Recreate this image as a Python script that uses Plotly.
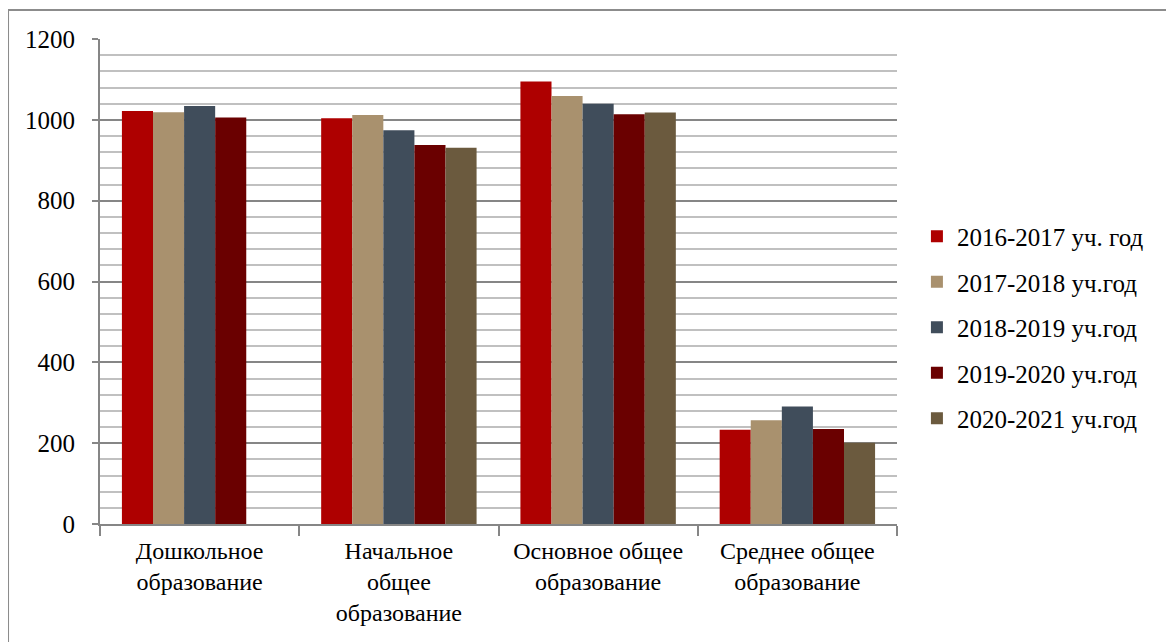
import plotly.graph_objects as go

categories = ["Дошкольное<br>образование", "Начальное<br>общее<br>образование",
              "Основное общее<br>образование", "Среднее общее<br>образование"]
series_names = ["2016-2017 уч. год", "2017-2018 уч.год", "2018-2019 уч.год",
                "2019-2020 уч.год", "2020-2021 уч.год"]
v2016 = [1022, 1004, 1095, 233]
v2017 = [1019, 1012, 1059, 257]
v2018 = [1034, 974, 1040, 291]
v2019 = [1006, 938, 1014, 235]
v2020 = [None, 931, 1018, 201]
colors = ["#AE0000", "#A9916E", "#404D5B", "#6A0000", "#6B5A3E"]

series = [v2016, v2017, v2018, v2019, v2020]
FONT = "'Times New Roman', 'Liberation Serif', 'DejaVu Serif', serif"

fig = go.Figure()
for i, (name, vals) in enumerate(zip(series_names, series)):
    fig.add_trace(go.Bar(x=categories, y=vals, name=name, marker_color=colors[i],
                         marker_line_width=0, legendgroup=f"g{i}"))

fig.update_layout(
    width=1174, height=642,
    margin=dict(l=92, r=285, t=31, b=126, autoexpand=False),
    paper_bgcolor="white", plot_bgcolor="white",
    barmode="group", bargap=0.22, bargroupgap=0,
    font=dict(family=FONT, size=24, color="black"),
    legend=dict(x=1.025, y=0.405, xanchor="left", yanchor="middle",
                traceorder="grouped", tracegroupgap=10,
                font=dict(family=FONT, size=25, color="black"),
                itemwidth=30),
    showlegend=True,
)
fig.update_yaxes(range=[0, 1200], dtick=200, tick0=0,
                 showgrid=True, gridcolor="#868686", gridwidth=2,
                 minor=dict(dtick=40, showgrid=True, gridcolor="#C0C0C0", gridwidth=2),
                 showline=True, linecolor="#868686", linewidth=2,
                 ticks="outside", ticklen=6, tickcolor="#868686", tickwidth=2,
                 ticklabelstandoff=12,
                 tickfont=dict(family=FONT, size=25, color="black"),
                 zeroline=False)
fig.update_xaxes(showline=True, linecolor="#868686", linewidth=2,
                 ticks="outside", tickson="boundaries", ticklen=10,
                 tickcolor="#868686", tickwidth=2, ticklabelstandoff=4,
                 tickfont=dict(family=FONT, size=24, color="black"))

fig.add_shape(type="rect", xref="paper", yref="paper",
              x0=-0.1154, y0=-0.3, x1=1.4, y1=1.0598,
              line=dict(color="#8C8C8C", width=2), fillcolor="rgba(0,0,0,0)", layer="below")

fig.write_html("out.html")
